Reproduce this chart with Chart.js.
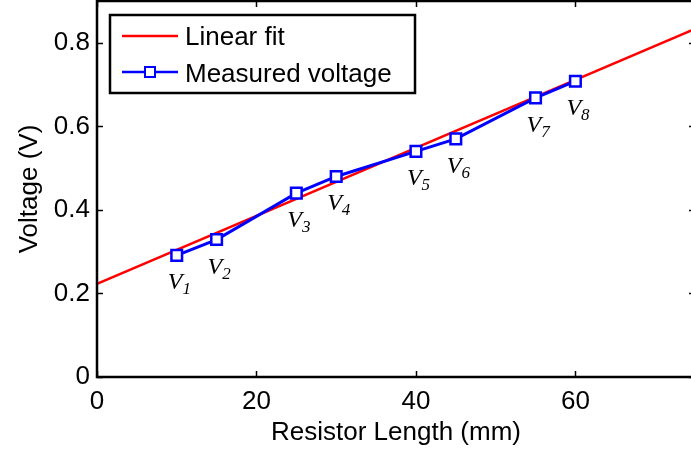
<!DOCTYPE html>
<html>
<head>
<meta charset="utf-8">
<script src="https://cdn.jsdelivr.net/npm/chart.js@4"></script>
<style>
    html, body { margin: 0; padding: 0; background: #fff; overflow: hidden; }
    #wrap { width: 691px; height: 452px; overflow: hidden; position: relative; }
    canvas { display: block; }
</style>
</head>
<body>
<div id="wrap"><canvas id="chart" width="697" height="452"></canvas></div>
<script>
// 数据
const lengthsMm = [10, 15, 25, 30, 40, 45, 55, 60];
const measuredVoltage = [0.291, 0.329, 0.44, 0.48, 0.54, 0.57, 0.668, 0.708];
const pointNames = ['1', '2', '3', '4', '5', '6', '7', '8'];
const fitX = [0, 75];
const fitY = [0.223, 0.833];
const xTicks = [0, 20, 40, 60];
const yTicks = [0, 0.2, 0.4, 0.6, 0.8];

const FONT = "'Liberation Sans', Arial, sans-serif";
Chart.defaults.font.family = FONT;
Chart.defaults.color = '#000';

// 坐标框和朝内的刻度线
const boxPlugin = {
    id: 'box',
    afterDatasetsDraw(chart) {
        const { ctx, chartArea: a, scales } = chart;
        const len = 6;
        ctx.save();
        ctx.strokeStyle = '#000';
        ctx.lineWidth = 1.5;
        scales.x.ticks.forEach(t => {
            const px = Math.round(scales.x.getPixelForValue(t.value)) + 0.5;
            ctx.beginPath();
            ctx.moveTo(px, a.bottom); ctx.lineTo(px, a.bottom - len);
            ctx.moveTo(px, a.top); ctx.lineTo(px, a.top + len);
            ctx.stroke();
        });
        scales.y.ticks.forEach(t => {
            const py = Math.round(scales.y.getPixelForValue(t.value)) + 0.5;
            ctx.beginPath();
            ctx.moveTo(a.left, py); ctx.lineTo(a.left + len, py);
            ctx.moveTo(a.right, py); ctx.lineTo(a.right - len, py);
            ctx.stroke();
        });
        ctx.lineWidth = 2.5;
        ctx.strokeRect(a.left, a.top, a.right - a.left, a.bottom - a.top);
        ctx.restore();
    }
};

// 测量点标注 V1..V8
const pointLabelPlugin = {
    id: 'pointLabels',
    afterDatasetsDraw(chart) {
        const { ctx } = chart;
        const meta = chart.getDatasetMeta(0);
        ctx.save();
        ctx.fillStyle = '#000';
        ctx.textBaseline = 'alphabetic';
        ctx.textAlign = 'left';
        meta.data.forEach((pt, i) => {
            const x = pt.x - 9;
            const y = pt.y + 34;
            ctx.font = "italic 24px 'Liberation Serif', 'Times New Roman', serif";
            ctx.fillText('V', x, y);
            const w = ctx.measureText('V').width;
            ctx.font = "italic 17px 'Liberation Serif', 'Times New Roman', serif";
            ctx.fillText(pointNames[i], x + w, y + 5);
        });
        ctx.restore();
    }
};

// 图例
const legendPlugin = {
    id: 'boxLegend',
    afterDraw(chart) {
        const { ctx } = chart;
        ctx.save();
        ctx.fillStyle = '#fff';
        ctx.fillRect(110, 15, 305, 78);
        ctx.strokeStyle = '#000';
        ctx.lineWidth = 2.5;
        ctx.strokeRect(110, 15, 305, 78);

        ctx.lineWidth = 2.5;
        ctx.strokeStyle = '#ff0000';
        ctx.beginPath(); ctx.moveTo(122, 36); ctx.lineTo(178, 36); ctx.stroke();

        ctx.strokeStyle = '#0000ff';
        ctx.beginPath(); ctx.moveTo(122, 72); ctx.lineTo(178, 72); ctx.stroke();
        ctx.lineWidth = 2;
        ctx.fillStyle = '#fff';
        ctx.fillRect(145, 67, 10, 10);
        ctx.strokeRect(145, 67, 10, 10);

        ctx.fillStyle = '#000';
        ctx.font = '26px ' + FONT;
        ctx.textBaseline = 'middle';
        ctx.fillText('Linear fit', 185, 38);
        ctx.fillText('Measured voltage', 185, 75);
        ctx.restore();
    }
};

new Chart(document.getElementById('chart'), {
    type: 'line',
    data: {
        datasets: [
            {
                label: 'Measured voltage',
                data: lengthsMm.map((x, i) => ({ x: x, y: measuredVoltage[i] })),
                borderColor: '#0000ff',
                backgroundColor: '#ffffff',
                borderWidth: 3,
                pointStyle: 'rect',
                pointRadius: 7.5,
                pointBorderWidth: 2.5,
                pointBorderColor: '#0000ff',
                pointBackgroundColor: '#ffffff',
                tension: 0,
                order: 0
            },
            {
                label: 'Linear fit',
                data: fitX.map((x, i) => ({ x: x, y: fitY[i] })),
                borderColor: '#ff0000',
                borderWidth: 2.5,
                pointRadius: 0,
                tension: 0,
                order: 1
            }
        ]
    },
    options: {
        responsive: false,
        animation: false,
        devicePixelRatio: 1,
        layout: { autoPadding: false, padding: { top: 1, right: 2, left: 0, bottom: 0 } },
        plugins: {
            legend: { display: false },
            tooltip: { enabled: false }
        },
        scales: {
            x: {
                type: 'linear',
                min: 0,
                max: 75,
                afterBuildTicks: s => { s.ticks = xTicks.map(v => ({ value: v })); },
                afterFit: s => {
                    s.height = 75;
                    s.paddingLeft = 0;
                    s.paddingRight = 0;
                },
                grid: { display: false, drawTicks: false },
                border: { display: false },
                ticks: {
                    padding: 9,
                    font: { size: 26 },
                    callback: v => String(v)
                },
                title: {
                    display: true,
                    text: 'Resistor Length (mm)',
                    font: { size: 26 },
                    padding: { top: 0, bottom: 4 }
                }
            },
            y: {
                type: 'linear',
                min: 0,
                max: 0.9,
                afterBuildTicks: s => { s.ticks = yTicks.map(v => ({ value: v })); },
                afterFit: s => {
                    s.width = 97;
                    s.paddingTop = 0;
                    s.paddingBottom = 0;
                },
                grid: { display: false, drawTicks: false },
                border: { display: false },
                ticks: {
                    padding: 7,
                    font: { size: 26 },
                    callback: v => (v === 0 ? '0' : v.toFixed(1))
                },
                title: {
                    display: true,
                    text: 'Voltage (V)',
                    font: { size: 26 },
                    padding: { top: 14, bottom: 0 }
                }
            }
        }
    },
    plugins: [boxPlugin, pointLabelPlugin, legendPlugin]
});
</script>
</body>
</html>
